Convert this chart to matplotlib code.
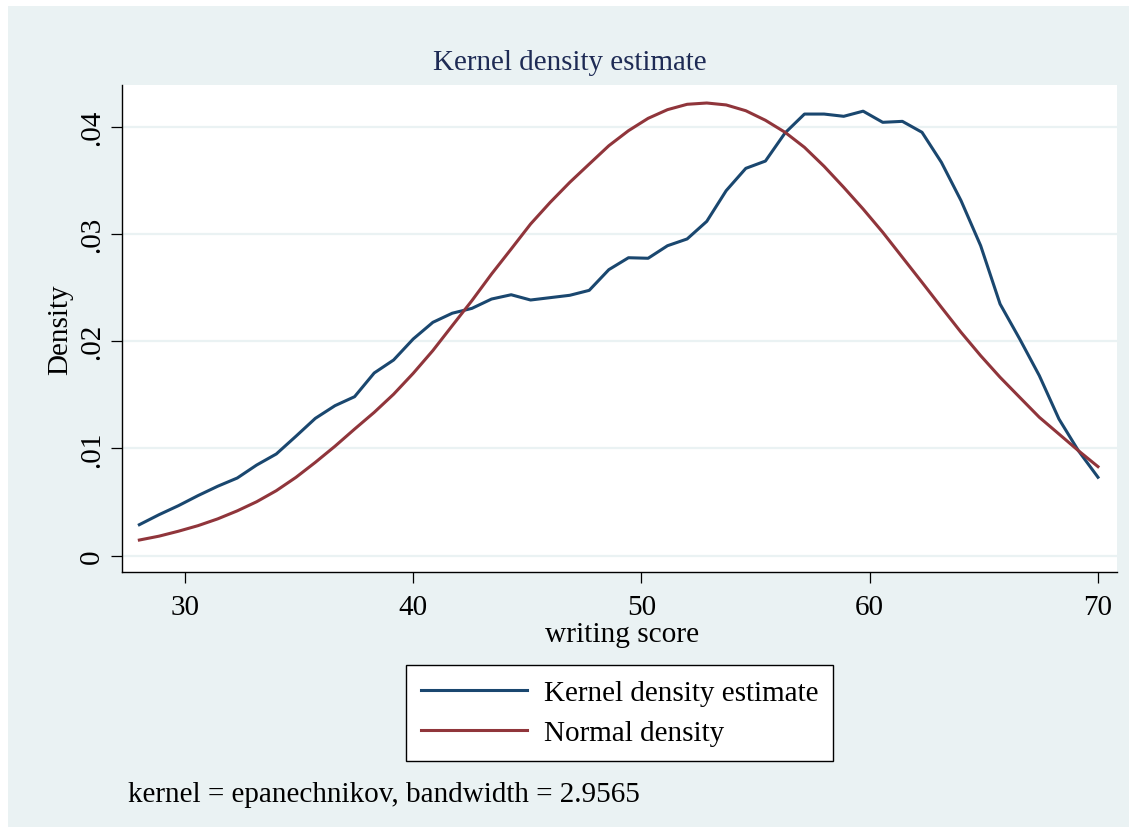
import numpy as np
import matplotlib.pyplot as plt
from matplotlib.patches import Rectangle

plt.rcParams['font.family'] = ['Liberation Serif', 'DejaVu Serif']

# evaluation points (writing score)
score = [28.00, 28.86, 29.71, 30.57, 31.43, 32.29, 33.14, 34.00, 34.86, 35.71,
         36.57, 37.43, 38.29, 39.14, 40.00, 40.86, 41.71, 42.57, 43.43, 44.29,
         45.14, 46.00, 46.86, 47.71, 48.57, 49.43, 50.29, 51.14, 52.00, 52.86,
         53.71, 54.57, 55.43, 56.29, 57.14, 58.00, 58.86, 59.71, 60.57, 61.43,
         62.29, 63.14, 64.00, 64.86, 65.71, 66.57, 67.43, 68.29, 69.14, 70.00]

kernel_dens = [0.00289, 0.00382, 0.00466, 0.00560, 0.00647, 0.00724, 0.00845, 0.00948, 0.01113, 0.01280,
               0.01398, 0.01482, 0.01703, 0.01824, 0.02020, 0.02175, 0.02260, 0.02305, 0.02392, 0.02432,
               0.02383, 0.02405, 0.02427, 0.02473, 0.02666, 0.02777, 0.02772, 0.02889, 0.02952, 0.03116,
               0.03402, 0.03610, 0.03678, 0.03940, 0.04116, 0.04116, 0.04095, 0.04143, 0.04039, 0.04048,
               0.03946, 0.03666, 0.03309, 0.02889, 0.02346, 0.02020, 0.01678, 0.01274, 0.00979, 0.00731]

normal_dens = [0.00146, 0.00182, 0.00228, 0.00280, 0.00343, 0.00418, 0.00503, 0.00606, 0.00730, 0.00870,
               0.01020, 0.01180, 0.01336, 0.01505, 0.01700, 0.01912, 0.02144, 0.02377, 0.02625, 0.02858,
               0.03091, 0.03293, 0.03480, 0.03650, 0.03821, 0.03961, 0.04076, 0.04157, 0.04207, 0.04219,
               0.04201, 0.04147, 0.04058, 0.03946, 0.03806, 0.03629, 0.03433, 0.03231, 0.03014, 0.02781,
               0.02548, 0.02315, 0.02082, 0.01864, 0.01663, 0.01476, 0.01290, 0.01134, 0.00979, 0.00830]

yticks = [0, 0.01, 0.02, 0.03, 0.04]
ytick_labels = ['0', '.01', '.02', '.03', '.04']
xticks = [30, 40, 50, 60, 70]

W, H = 1129, 828
bg = '#EAF2F3'

fig = plt.figure(figsize=(W / 100, H / 100), dpi=100)
fig.patch.set_facecolor('white')
fig.add_artist(Rectangle((8 / W, 0), 1 - 8 / W, 1 - 7 / H, transform=fig.transFigure,
                         facecolor=bg, edgecolor='none', zorder=-5))

ax = fig.add_axes([122 / W, 1 - 573.3 / H, (1116.7 - 122) / W, (573.3 - 86) / H])
ax.set_facecolor('white')

ax.plot(score, kernel_dens, color='#1A476F', lw=2.2, label='Kernel density estimate')
ax.plot(score, normal_dens, color='#90353B', lw=2.2, label='Normal density')

ax.set_xlim(27.24, 70.82)
ax.set_ylim(-0.001547, 0.043868)
ax.set_xticks(xticks)
ax.set_xticklabels([str(t) for t in xticks])
ax.set_yticks(yticks)
ax.set_yticklabels(ytick_labels)
ax.yaxis.grid(True, color=bg, lw=1.6)
ax.set_axisbelow(True)

for s in ['top', 'right']:
    ax.spines[s].set_visible(False)
for s in ['left', 'bottom']:
    ax.spines[s].set_linewidth(1.0)
    ax.spines[s].set_color('black')

ax.tick_params(axis='both', direction='out', length=8, width=0.9, color='black', labelsize=21)
ax.tick_params(axis='x', pad=7.5)
ax.tick_params(axis='y', pad=4.5, labelrotation=90)
for lbl in ax.get_yticklabels():
    lbl.set_va('center')

fig.text(569.5 / W, 1 - 63 / H, 'Kernel density estimate', ha='center', va='center',
         fontsize=20.9, color='#1E2B55')
fig.text(622 / W, 1 - 635 / H, 'writing score', ha='center', va='center', fontsize=21.2)
fig.text(60 / W, 1 - 330 / H, 'Density', ha='center', va='center', rotation=90, fontsize=21)
fig.text(128 / W, 1 - 795 / H, 'kernel = epanechnikov, bandwidth = 2.9565',
         ha='left', va='center', fontsize=21)

leg = fig.legend(loc='center', bbox_to_anchor=(619.5 / W, 1 - 714 / H), fontsize=21,
                 frameon=True, fancybox=False, framealpha=1, edgecolor='black',
                 handlelength=3.65, handletextpad=0.55, borderpad=0.5,
                 labelspacing=0.45, borderaxespad=0)
leg.get_frame().set_linewidth(1.0)

fig.savefig('out.png', dpi=100, facecolor=fig.get_facecolor())
